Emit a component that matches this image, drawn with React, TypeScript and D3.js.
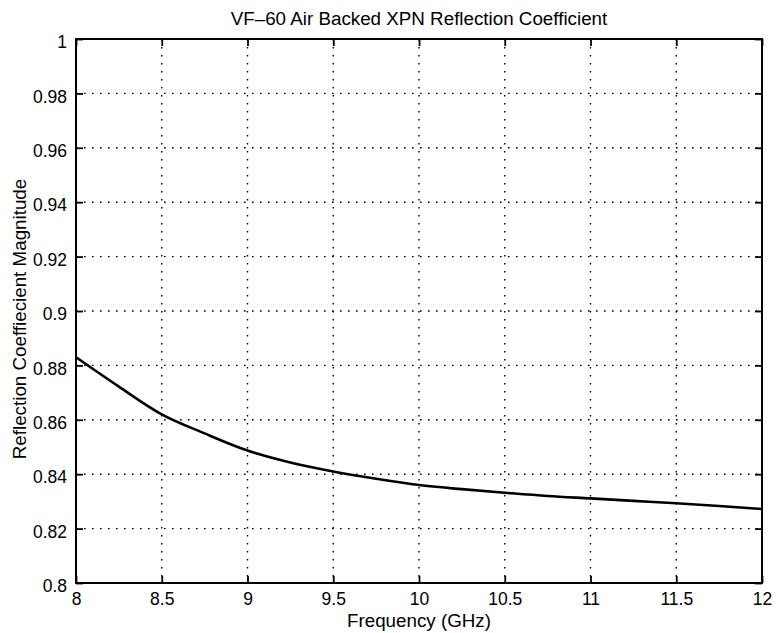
import { useRef, useEffect } from "react";
import * as d3 from "d3";

const freqGHz = [8, 8.25, 8.5, 8.75, 9, 9.25, 9.5, 9.75, 10, 10.25, 10.5, 10.75, 11, 11.25, 11.5, 11.75, 12];
const reflMag = [0.883, 0.8722, 0.862, 0.855, 0.8487, 0.8443, 0.841, 0.8383, 0.836, 0.8345, 0.8332, 0.832, 0.8311, 0.8302, 0.8293, 0.8283, 0.8272];
const xTicks = [8, 8.5, 9, 9.5, 10, 10.5, 11, 11.5, 12];
const yTicks = [0.8, 0.82, 0.84, 0.86, 0.88, 0.9, 0.92, 0.94, 0.96, 0.98, 1];

const W = 776, H = 633;
const FONT = "'Liberation Sans', Arial, Helvetica, sans-serif";

export default function App() {
  const ref = useRef<SVGSVGElement>(null);

  useEffect(() => {
    if (!ref.current) return;
    const svg = d3.select(ref.current); svg.selectAll("*").remove();
    const margin = { top: 39, right: 14, bottom: 50, left: 76 };
    const width = W - margin.left - margin.right;
    const height = H - margin.top - margin.bottom;
    svg.append("rect").attr("width", W).attr("height", H).attr("fill", "#fff");
    const g = svg.append("g").attr("transform", `translate(${margin.left},${margin.top})`);
    const x = d3.scaleLinear().domain([8, 12]).range([0, width]);
    const y = d3.scaleLinear().domain([0.8, 1]).range([height, 0]);

    // dotted grid
    g.selectAll(".gx").data(xTicks.slice(1, -1)).join("line")
      .attr("x1", d => x(d)).attr("x2", d => x(d)).attr("y1", 0).attr("y2", height)
      .attr("stroke", "#000").attr("stroke-width", 1.4).attr("stroke-dasharray", "1.6,6.4");
    g.selectAll(".gy").data(yTicks.slice(1, -1)).join("line")
      .attr("y1", d => y(d)).attr("y2", d => y(d)).attr("x1", 0).attr("x2", width)
      .attr("stroke", "#000").attr("stroke-width", 1.4).attr("stroke-dasharray", "1.6,6.4");

    // axes with inward ticks on all sides
    const fmt = (d: d3.NumberValue) => String(+d);
    const styleAxis = (sel: d3.Selection<SVGGElement, unknown, null, undefined>) => {
      sel.select(".domain").remove();
      sel.selectAll(".tick line").attr("stroke", "#000").attr("stroke-width", 1.8);
      sel.selectAll("text").attr("fill", "#000").attr("font-size", "17.5px").attr("font-family", FONT);
    };
    g.append("g").attr("transform", `translate(0,${height})`)
      .call(d3.axisBottom(x).tickValues(xTicks).tickFormat(fmt).tickSizeInner(-7).tickPadding(10))
      .call(styleAxis);
    g.append("g").call(d3.axisTop(x).tickValues(xTicks).tickFormat(() => "").tickSizeInner(-7)).call(styleAxis);
    g.append("g")
      .call(d3.axisLeft(y).tickValues(yTicks).tickFormat(fmt).tickSizeInner(-7).tickPadding(9))
      .call(styleAxis)
      .selectAll("text").attr("dy", "0.5em");
    g.append("g").attr("transform", `translate(${width},0)`)
      .call(d3.axisRight(y).tickValues(yTicks).tickFormat(() => "").tickSizeInner(-7)).call(styleAxis);

    // frame
    g.append("rect").attr("width", width).attr("height", height)
      .attr("fill", "none").attr("stroke", "#000").attr("stroke-width", 2);

    const line = d3.line<number>().x((_d, i) => x(freqGHz[i])).y(d => y(d)).curve(d3.curveMonotoneX);
    g.append("path").datum(reflMag).attr("fill", "none").attr("stroke", "#000")
      .attr("stroke-width", 2.6).attr("d", line);

    svg.append("text").attr("x", margin.left + width / 2).attr("y", 25).attr("text-anchor", "middle")
      .attr("font-size", "18.8px").attr("font-family", FONT).text("VF\u201360 Air Backed XPN Reflection Coefficient");
    svg.append("text").attr("x", margin.left + width / 2).attr("y", 627).attr("text-anchor", "middle")
      .attr("font-size", "18.8px").attr("font-family", FONT).text("Frequency (GHz)");
    svg.append("text").attr("transform", `translate(26,319) rotate(-90)`).attr("text-anchor", "middle")
      .attr("font-size", "18.8px").attr("font-family", FONT).text("Reflection Coeffiecient Magnitude");
  }, []);

  return <svg ref={ref} width={W} height={H} style={{ position: "absolute", left: 0, top: 0 }} />;
}
